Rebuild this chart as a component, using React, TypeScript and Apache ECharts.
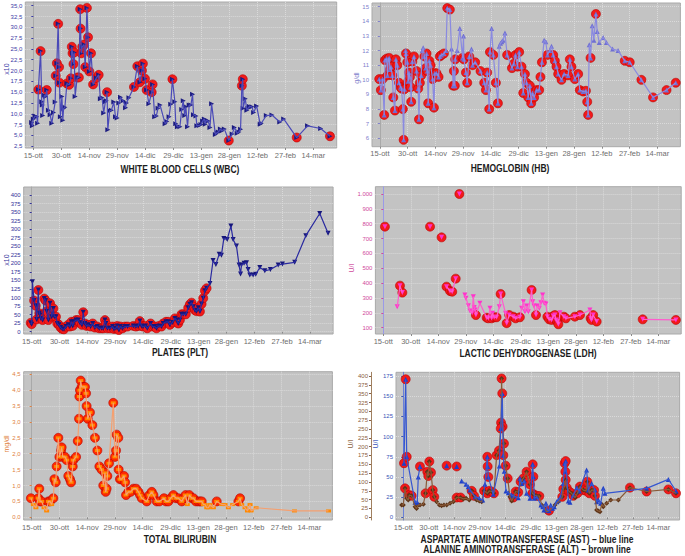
import React, { useEffect, useRef } from "react";
import * as echarts from "echarts";

// ---------- x axis (days from 15 October) ----------
const tickDays = [0, 15, 30, 45, 60, 75, 90, 105, 120, 135, 150];
const tickLabels = ["15-ott", "30-ott", "14-nov", "29-nov", "14-dic", "29-dic", "13-gen", "28-gen", "12-feb", "27-feb", "14-mar"];

const panelTitles = [
  "WHITE BLOOD CELLS (WBC)",
  "HEMOGLOBIN (HB)",
  "PLATES (PLT)",
  "LACTIC DEHYDROGENASE (LDH)",
  "TOTAL BILIRUBIN",
];
const astTitle = ["ASPARTATE AMINOTRANSFERASE (AST) \u2013 blue line", "ALANINE AMINOTRANSFERASE (ALT) \u2013 brown line"];
const axisNames = ["x10", "g/dl", "x10", "U/I", "mg/dl", "U/I", "U/I"];

// ---------- y ticks ----------
const wbcTicks = [2.5, 5, 7.5, 10, 12.5, 15, 17.5, 20, 22.5, 25, 27.5, 30, 32.5, 35];
const hbTicks = [6, 7, 8, 9, 10, 11, 12, 13, 14, 15];
const pltTicks = [0, 25, 50, 75, 100, 125, 150, 175, 200, 225, 250, 275, 300, 325, 350, 375, 400];
const ldhTicks = [100, 200, 300, 400, 500, 600, 700, 800, 900, 1000];
const biliTicks = [0, 0.5, 1, 1.5, 2, 2.5, 3, 3.5, 4, 4.5];
const astTicks = [0, 25, 50, 75, 100, 125, 150, 175];
const altTicks = [0, 25, 50, 75, 100, 125, 150, 175, 200, 225, 250, 275, 300, 325, 350, 375, 400];

// ---------- data: [day, value, out-of-range flag]; null = gap in line ----------
type Pt = [number, number, number] | null;

const wbc: Pt[] = [
  [-0.9, 8.0, 0], [-0.5, 7.2, 0], [0.0, 8.8, 0], [0.9, 9.5, 0], [1.8, 9.3, 0], [2.3, 7.8, 0], [2.7, 15.6, 1], [3.9, 24.5, 1],
  [4.5, 12.8, 0], [4.8, 12.0, 0], [5.0, 9.6, 0], [5.9, 14.3, 0], [6.6, 14.0, 0], [7.2, 15.5, 1], [8.1, 10.8, 0], [9.0, 9.8, 0],
  [9.9, 7.8, 0], [10.8, 10.3, 0], [11.7, 12.7, 0], [12.0, 18.8, 1], [12.6, 21.7, 1], [13.3, 30.8, 1], [13.8, 20.8, 1], [14.0, 17.2, 1],
  [14.5, 9.3, 0], [15.3, 14.0, 0], [15.8, 8.5, 0], [16.2, 11.2, 0], [16.9, 11.5, 0], [18.0, 17.0, 1], [19.2, 16.7, 1], [20.1, 18.2, 1],
  [20.6, 25.5, 1], [21.0, 24.0, 1], [21.5, 21.5, 1], [21.9, 24.2, 1], [22.4, 14.0, 0], [23.5, 18.4, 1], [24.4, 18.4, 1], [25.1, 34.2, 1],
  [25.3, 29.7, 1], [25.7, 24.0, 1], [26.2, 25.5, 1], [27.1, 26.0, 1], [27.8, 20.8, 1], [28.7, 34.5, 1], [29.3, 27.7, 1], [30.0, 19.8, 1],
  [30.9, 24.0, 1], [32.0, 16.8, 1], [33.8, 18.3, 1], [35.0, 19.0, 1], [35.9, 13.5, 0], [36.8, 13.7, 0], [37.7, 10.2, 0], [38.6, 12.8, 0],
  [39.1, 13.0, 0], [39.5, 15.0, 1], [39.9, 6.3, 0], [40.9, 10.7, 0], [41.8, 10.8, 0], [43.1, 12.7, 0], [44.0, 9.3, 0], [44.9, 9.0, 0],
  [45.8, 12.5, 0], [46.7, 13.8, 0], [48.1, 13.0, 0], [49.4, 11.4, 0], [49.9, 12.5, 0], [51.2, 13.7, 0], [53.9, 16.2, 1], [55.7, 21.0, 1],
  [57.1, 17.3, 1], [58.2, 20.0, 1], [58.7, 21.6, 1], [59.8, 18.1, 1], [60.7, 15.5, 1], [61.9, 12.3, 0], [63.4, 15.0, 1], [63.9, 16.8, 1],
  [65.0, 9.3, 0], [65.9, 9.5, 0], [66.8, 11.3, 0], [67.9, 12.0, 0], [70.6, 7.7, 0], [71.5, 8.2, 0], [72.7, 9.3, 0], [73.6, 12.2, 0],
  [74.5, 18.0, 1], [75.8, 12.8, 0], [76.3, 7.7, 0], [77.2, 7.0, 0], [78.5, 7.0, 0], [79.5, 11.0, 0], [80.3, 13.0, 0], [81.1, 9.6, 0],
  [81.7, 11.6, 0], [82.6, 7.0, 0], [83.5, 12.0, 0], [84.4, 12.0, 0], [85.3, 14.5, 0], [85.8, 9.8, 0], [87.1, 9.5, 0], [87.6, 7.2, 0],
  [88.9, 7.3, 0], [89.8, 7.5, 0], [90.7, 8.3, 0], [91.6, 8.8, 0], [92.1, 7.6, 0], [92.6, 8.5, 0], [93.7, 8.3, 0], [94.6, 6.8, 0],
  [95.5, 12.3, 0], [97.5, 5.2, 0], [98.4, 5.6, 0], [99.1, 5.8, 0], [100.2, 6.5, 0], [100.9, 6.0, 0], [102.3, 6.5, 0], [104.7, 3.8, 1],
  [106.5, 5.3, 0], [107.7, 6.8, 0], [109.2, 5.5, 0], [110.1, 5.8, 0], [111.0, 6.4, 0], [111.7, 16.5, 1], [112.2, 18.0, 1], [112.4, 11.3, 0],
  [113.5, 13.5, 0], [114.4, 10.8, 0], [114.9, 11.2, 0], [115.8, 11.7, 0], [117.1, 11.6, 0], [118.0, 10.3, 0], [119.6, 11.8, 0], [121.5, 7.6, 0],
  [122.1, 7.8, 0], [124.8, 9.6, 0], [127.8, 9.7, 0], [132.0, 8.1, 0], [134.1, 8.8, 0], [141.1, 4.5, 1], [146.9, 7.2, 0], [153.9, 6.6, 0],
  [158.9, 4.8, 1],
];

const hb: Pt[] = [
  [-0.4, 10.05, 1], [0.5, 9.3, 1], [1.4, 10.05, 1], [2.3, 7.6, 1], [2.7, 11.35, 1], [3.6, 11.45, 1], [4.1, 10.3, 1], [4.5, 11.4, 1],
  [5.0, 11.5, 1], [5.4, 10.7, 1], [5.9, 10.9, 1], [6.7, 10.3, 1], [7.2, 8.8, 1], [8.1, 7.9, 1], [8.6, 11.4, 1], [9.4, 11.0, 1],
  [10.3, 9.8, 1], [11.2, 9.5, 1], [11.7, 9.4, 1], [12.4, 8.0, 1], [12.8, 5.9, 1], [13.2, 9.35, 1], [13.9, 12.0, 0], [14.1, 11.8, 1],
  [14.8, 11.2, 1], [15.3, 9.9, 1], [15.7, 10.5, 1], [16.2, 10.2, 1], [16.6, 9.5, 1], [16.9, 8.5, 1], [17.5, 11.25, 1], [18.4, 11.6, 1],
  [19.8, 10.6, 1], [20.7, 9.4, 1], [21.1, 7.3, 1], [21.6, 9.8, 1], [22.3, 10.3, 1], [22.9, 12.0, 0], [23.4, 12.2, 0], [24.0, 11.6, 1],
  [24.7, 10.8, 1], [25.2, 11.8, 1], [25.6, 10.6, 1], [26.1, 8.4, 1], [26.7, 11.3, 1], [27.4, 11.0, 1], [28.5, 10.05, 1], [29.2, 8.1, 1],
  [29.7, 10.45, 1], [30.6, 10.45, 1], [31.7, 10.2, 1], [32.4, 11.6, 1], [33.3, 11.7, 1], [34.6, 11.8, 1], [35.7, 12.0, 0], [36.4, 14.9, 1],
  [37.8, 14.8, 1], [38.7, 12.1, 0], [39.6, 9.6, 1], [40.0, 10.6, 1], [40.5, 9.6, 1], [40.7, 11.4, 1], [41.8, 12.0, 0], [43.2, 13.5, 0],
  [44.7, 11.5, 1], [45.2, 13.0, 0], [45.4, 11.4, 1], [46.5, 10.5, 1], [47.2, 9.8, 1], [48.3, 11.6, 1], [49.5, 12.1, 0], [50.1, 11.0, 1],
  [51.5, 11.2, 1], [54.4, 10.6, 1], [56.4, 9.8, 1], [57.3, 9.3, 1], [58.0, 10.5, 1], [59.1, 8.0, 1], [59.5, 11.9, 1], [60.4, 13.5, 0],
  [61.3, 11.7, 1], [62.7, 9.8, 1], [63.8, 8.4, 1], [64.5, 12.3, 0], [65.2, 12.5, 0], [65.9, 12.6, 0], [66.6, 12.7, 0], [67.6, 13.2, 0],
  [68.8, 11.7, 1], [71.4, 10.8, 1], [72.4, 11.1, 1], [73.3, 11.7, 1], [74.4, 10.9, 1], [75.3, 11.9, 1], [76.6, 10.9, 1], [77.5, 9.1, 1],
  [78.4, 10.4, 1], [79.3, 9.8, 1], [80.2, 8.8, 1], [81.1, 9.6, 1], [81.8, 8.4, 1], [82.5, 9.1, 1], [83.4, 8.8, 1], [84.7, 9.3, 1],
  [86.1, 9.3, 1], [86.8, 10.2, 1], [87.6, 11.2, 1], [88.8, 12.7, 0], [89.7, 12.6, 0], [90.6, 11.7, 1], [91.9, 12.0, 0], [92.8, 12.3, 0],
  [93.7, 11.7, 1], [94.6, 11.3, 1], [95.5, 10.9, 1], [96.4, 10.4, 1], [98.2, 10.0, 1], [99.6, 10.4, 1], [101.8, 10.3, 1], [102.7, 11.4, 1],
  [103.6, 10.9, 1], [105.4, 10.05, 1], [107.2, 10.4, 1], [108.1, 9.3, 1], [109.9, 9.2, 1], [111.4, 9.25, 1], [112.1, 8.5, 1], [112.6, 7.6, 1],
  [113.2, 12.4, 0], [113.9, 11.5, 1], [114.8, 13.7, 0], [115.7, 12.7, 0], [116.8, 14.5, 1], [117.5, 13.3, 0], [118.6, 12.55, 0], [120.7, 12.9, 0],
  [122.5, 12.55, 0], [125.8, 12.1, 0], [128.8, 12.0, 0], [132.4, 11.3, 1], [135.1, 11.2, 1], [141.4, 10.0, 1], [147.7, 8.8, 1], [155.0, 9.3, 1],
  [160.0, 9.8, 1],
];

const plt: Pt[] = [
  [-0.5, 26, 1], [0.0, 22, 1], [0.4, 146, 0], [1.3, 91, 1], [2.2, 76, 1], [2.7, 36, 1], [3.6, 122, 1], [4.1, 54, 1],
  [4.5, 49, 1], [5.0, 39, 1], [5.9, 34, 1], [6.8, 97, 1], [7.5, 91, 1], [8.1, 60, 1], [9.0, 34, 1], [9.9, 83, 1],
  [10.8, 44, 1], [11.7, 68, 1], [12.2, 44, 1], [13.1, 44, 1], [13.8, 24, 1], [14.7, 20, 1], [15.6, 12, 1], [16.5, 8, 1],
  [17.4, 7, 1], [18.5, 15, 1], [19.7, 20, 1], [20.6, 15, 1], [21.4, 29, 1], [22.1, 17, 1], [22.8, 29, 1], [23.9, 34, 1],
  [25.1, 34, 1], [26.0, 26, 1], [27.1, 20, 1], [27.8, 57, 1], [28.7, 24, 1], [29.6, 17, 1], [30.5, 20, 1], [31.8, 15, 1],
  [32.9, 24, 1], [34.1, 12, 1], [35.4, 15, 1], [36.4, 10, 1], [37.7, 10, 1], [38.6, 10, 1], [39.5, 34, 1], [40.0, 24, 1],
  [40.8, 10, 1], [42.2, 10, 1], [43.6, 15, 1], [44.3, 8, 1], [45.4, 10, 1], [46.1, 17, 1], [47.0, 5, 1], [47.9, 15, 1],
  [49.0, 10, 1], [50.3, 15, 1], [51.7, 15, 1], [54.8, 17, 1], [56.2, 15, 1], [57.5, 17, 1], [58.3, 31, 1], [59.2, 17, 1],
  [60.1, 15, 1], [61.4, 17, 1], [62.3, 10, 1], [64.1, 24, 1], [65.2, 15, 1], [66.4, 15, 1], [67.3, 10, 1], [68.6, 17, 1],
  [70.0, 15, 1], [70.9, 24, 1], [72.4, 29, 1], [73.6, 29, 1], [74.5, 20, 1], [75.9, 27, 1], [77.2, 39, 1], [78.1, 34, 1],
  [79.0, 24, 1], [79.9, 34, 1], [80.8, 51, 1], [81.7, 51, 1], [83.1, 51, 1], [84.4, 70, 1], [85.3, 80, 1], [86.2, 85, 1],
  [87.1, 73, 1], [88.0, 63, 1], [88.9, 60, 1], [89.8, 70, 1], [90.7, 59, 1], [91.6, 81, 1], [92.5, 98, 1], [93.4, 120, 1],
  [94.3, 127, 1], [96.1, 141, 0], [97.8, 208, 0], [99.3, 197, 0], [101.1, 227, 0], [102.3, 224, 0], [103.6, 273, 0], [105.4, 270, 0],
  [107.4, 309, 0], [108.6, 270, 0], [110.4, 251, 0], [111.8, 195, 0], [112.6, 169, 0], [113.1, 195, 0], [114.5, 200, 0], [115.8, 202, 0],
  [116.7, 182, 0], [117.6, 166, 0], [119.4, 166, 0], [120.8, 168, 0], [123.0, 188, 0], [125.7, 178, 0], [128.7, 182, 0], [132.9, 195, 0],
  [135.2, 198, 0], [141.8, 203, 0], [147.8, 281, 0], [155.3, 346, 0], [159.8, 288, 0],
];

const ldh: Pt[] = [
  [0.9, 780, 1], null, [7.6, 241, 0], [9.1, 383, 1], [10.4, 336, 1], null, [25.5, 780, 1], null, [31.8, 708, 1], null,
  [34.5, 376, 1], [36.4, 347, 1], [37.6, 342, 1], [39.5, 430, 1], null, [41.5, 1000, 1], null,
  [44.5, 320, 0], [45.1, 298, 0], [46.4, 248, 0], [47.3, 212, 0], [48.5, 200, 0], [49.1, 309, 0], [49.6, 235, 0], [50.0, 219, 0],
  [50.5, 185, 1], [52.7, 264, 0], [56.4, 167, 1], [57.3, 163, 1], [58.2, 230, 0], [59.1, 163, 1], [59.6, 197, 0], [60.5, 170, 1],
  [61.8, 170, 1], [63.3, 241, 0], [64.0, 327, 1], [66.7, 197, 0], [67.3, 130, 1], [68.7, 185, 1], [70.9, 174, 1], [72.2, 163, 1],
  [74.5, 170, 1], [75.5, 230, 0], [76.4, 275, 0], [77.3, 208, 0], [78.2, 246, 0], [79.1, 208, 0], [80.9, 354, 1], [81.5, 275, 0],
  [82.2, 246, 0], [83.3, 185, 1], [84.0, 246, 0], [85.1, 230, 0], [86.0, 268, 0], [86.9, 320, 0], [87.8, 264, 0], [88.7, 260, 0],
  [89.5, 174, 1], [90.5, 156, 1], [91.8, 152, 1], [92.7, 178, 1], [93.6, 185, 1], [94.2, 152, 1], [94.9, 141, 1], [95.5, 123, 1],
  [96.4, 201, 0], [98.5, 174, 1], [99.6, 163, 1], [104.5, 174, 1], [107.3, 185, 1], [112.7, 219, 0], [113.1, 163, 1], [113.6, 152, 1],
  [114.5, 185, 1], [116.4, 141, 1], null, [141.5, 156, 1], [159.6, 152, 1],
];

const bili: Pt[] = [
  [-0.4, 0.6, 1], [0.9, 0.4, 0], [2.3, 0.3, 0], [3.6, 0.6, 1], [4.1, 0.9, 1], [4.5, 0.5, 1], [5.4, 0.5, 1], [6.7, 0.3, 0],
  [8.1, 0.2, 0], [9.0, 0.5, 1], [9.9, 0.5, 1], [10.8, 0.4, 0], [11.7, 0.6, 1], [12.3, 1.2, 1], [13.0, 1.1, 1], [13.5, 1.6, 1],
  [14.4, 2.5, 1], [15.0, 1.9, 1], [15.9, 2.1, 1], [16.2, 2.2, 1], [16.8, 1.9, 1], [18.0, 1.9, 1], [18.9, 1.8, 1], [19.8, 1.3, 1],
  [20.7, 1.2, 1], [21.3, 1.1, 1], [22.2, 1.6, 1], [22.5, 1.8, 1], [24.0, 1.9, 1], [24.9, 2.4, 1], [25.6, 3.1, 1], [25.8, 3.8, 1],
  [26.1, 4.0, 1], [26.5, 4.3, 1], [27.0, 4.1, 1], [27.9, 4.1, 1], [28.8, 4.1, 1], [29.4, 3.9, 1], [29.7, 3.5, 1], [30.3, 3.1, 1],
  [31.5, 3.3, 1], [32.8, 2.9, 1], [34.2, 2.5, 1], [35.5, 2.1, 1], [36.6, 1.6, 1], [37.8, 1.5, 1], [38.7, 1.0, 1], [39.6, 1.4, 1],
  [40.0, 0.8, 1], [40.5, 0.9, 1], [40.9, 1.3, 1], [41.8, 1.7, 1], [44.1, 3.6, 1], [45.0, 1.9, 1], [45.6, 2.1, 1], [45.9, 2.6, 1],
  [46.8, 2.5, 1], [47.0, 1.5, 1], [47.7, 1.2, 1], [48.6, 1.2, 1], [49.9, 1.3, 1], [50.5, 1.1, 1], [51.0, 0.7, 1], [52.3, 0.8, 1],
  [53.5, 0.8, 1], [55.0, 0.9, 1], [56.4, 0.9, 1], [57.7, 0.8, 1], [58.6, 0.7, 1], [59.5, 0.6, 1], [62.2, 0.5, 1], [63.6, 0.7, 1],
  [64.9, 0.8, 1], [65.8, 0.7, 1], [67.6, 0.5, 1], [69.0, 0.5, 1], [71.5, 0.6, 1], [72.6, 0.5, 1], [73.9, 0.5, 1], [75.1, 0.6, 1],
  [76.6, 0.7, 1], [78.0, 0.6, 1], [79.3, 0.6, 1], [81.1, 0.5, 1], [82.0, 0.6, 1], [83.2, 0.7, 1], [84.1, 0.4, 0], [85.2, 0.7, 1],
  [86.5, 0.6, 1], [87.4, 0.6, 1], [88.8, 0.5, 1], [90.1, 0.5, 1], [91.0, 0.5, 1], [91.9, 0.5, 1], [92.8, 0.4, 0], [93.7, 0.4, 0],
  [94.6, 0.3, 0], [95.5, 0.3, 0], [96.4, 0.4, 0], [98.2, 0.3, 0], [100.0, 0.5, 1], [102.7, 0.4, 0], [104.5, 0.4, 0], [106.3, 0.3, 0],
  [108.6, 0.4, 0], [111.7, 0.5, 1], [112.6, 0.6, 1], [113.5, 0.4, 0], [115.3, 0.3, 0], [116.6, 0.2, 0], [118.0, 0.4, 0], [118.6, 0.2, 0],
  [121.3, 0.3, 0], [142.0, 0.2, 0], [160.4, 0.2, 0],
];

const ast: Pt[] = [
  [0.4, 67, 1], [1.4, 171, 1], [2.0, 75, 1], [6.9, 18.6, 0], [8.2, 18.6, 0], [8.8, 50, 0], [9.8, 63, 1], null,
  [25.5, 64, 1], null, [31.4, 63, 1], null,
  [34.3, 45, 0], [36.9, 41, 0], [38.2, 38, 0], [39.2, 34, 0], [42.2, 25.6, 0], [44.7, 23.5, 0], [46.7, 21.5, 0], [48.0, 41, 0],
  [49.4, 75, 1], [49.6, 63, 1], [50.0, 50, 1], [52.9, 28.5, 0], [56.5, 63.6, 0], [57.3, 110, 1], [58.2, 153.5, 1], [58.8, 77, 1],
  [59.4, 57, 0], [60.4, 32.6, 0], [61.8, 30.5, 0], [63.7, 27.6, 0], [64.7, 26.4, 0], [67.6, 24.4, 0], [68.6, 48.3, 0], [69.6, 42, 0],
  [71.2, 45, 0], [72.5, 29.7, 0], [74.5, 23.5, 0], [76.1, 65.6, 1], [76.5, 50.3, 1], [77.1, 23.5, 0], [78.4, 25.6, 0], [81.0, 15.3, 0],
  [82.0, 13.2, 0], [82.7, 9.1, 0], [83.9, 17.3, 0], [84.7, 9.1, 0], [85.7, 8.3, 1], [86.7, 15.3, 0], [87.8, 11.1, 0], [88.8, 13.2, 0],
  [90.2, 19.4, 0], [91.2, 21.5, 0], [92.5, 25.6, 0], [94.1, 42, 0], [94.9, 67, 1], [95.3, 56.5, 1], [95.5, 69.7, 1], [97.1, 20.2, 0],
  [98.0, 18.6, 0], [100.0, 27.6, 0], [102.0, 36.7, 0], [103.5, 32.6, 0], [107.8, 58.6, 0], [108.8, 33.8, 0], [110.8, 42, 0], [112.7, 33.8, 0],
  [113.7, 19.4, 0], [114.7, 21.5, 0], [116.1, 17.3, 0], [117.6, 35.9, 0], [118.6, 29.7, 0], [143.1, 35.9, 0], [155.9, 47, 0], [160.4, 32.6, 0],
];

const alt: Pt[] = [
  [-1.0, 35, 0], [0.0, 35, 0], [1.0, 82, 1], [2.0, 54, 0], [2.9, 49, 0], [3.5, 63, 1], [4.9, 61, 1], [6.9, 30, 0],
  [7.8, 25, 0], [8.8, 35, 0], [9.8, 35, 0], [11.8, 37, 0], [13.1, 68, 1], [14.1, 129, 1], [14.7, 117, 1], [15.3, 158, 1],
  [16.3, 127, 1], [17.3, 77, 1], [18.2, 58, 1], [19.6, 44, 0], [21.2, 35, 0], [22.5, 33, 0], [23.9, 35, 0], [25.5, 35, 0],
  [27.5, 40, 0], [29.4, 44, 0], [31.4, 56, 1], [33.7, 56, 1], [35.3, 52, 0], [36.9, 54, 0], [38.8, 49, 0], [40.2, 75, 1],
  [41.6, 61, 1], [43.1, 49, 0], [44.7, 46, 0], [46.1, 44, 0], [47.5, 75, 1], [49.4, 68, 1], [50.6, 75, 1], [52.0, 73, 1],
  [53.3, 68, 1], [54.9, 176, 1], [56.3, 189, 1], [57.5, 268, 1], [57.8, 393, 1], [58.4, 257, 1], [59.2, 209, 1], [60.2, 146, 1],
  [61.4, 110, 1], [62.7, 58, 0], [63.7, 46, 0], [64.7, 56, 1], [66.1, 73, 1], [67.6, 71, 1], [69.0, 101, 1], [70.6, 110, 1],
  [72.5, 129, 1], [74.5, 93, 1], [75.9, 68, 1], [77.1, 63, 1], [78.4, 61, 1], [80.0, 60, 1], [81.4, 35, 0], [83.3, 25, 0],
  [84.3, 16, 0], [85.7, 19, 0], [87.3, 25, 0], [89.2, 35, 0], [91.2, 44, 0], [93.5, 58, 1], [94.1, 80, 1], [95.5, 106, 1],
  [96.1, 84, 1], [97.6, 73, 1], [99.0, 68, 1], [100.0, 61, 1], [101.0, 56, 0], [102.4, 68, 1], [103.9, 87, 1], [105.9, 77, 1],
  [107.5, 75, 1], [108.2, 101, 1], [109.4, 68, 1], [110.8, 77, 1], [112.2, 77, 1], [112.7, 61, 1], [113.7, 21, 0], [114.7, 18, 0],
  [115.7, 16, 0], [116.7, 37, 0], [117.6, 30, 0], [119.6, 40, 0], [122.0, 49, 0], [126.5, 49, 0], [133.3, 84, 1], [143.1, 73, 1],
  [155.9, 79, 1], [160.4, 68, 1],
];

// ---------- formatting ----------
const fmt1 = (v: number) => v.toFixed(1).replace(".", ",");
const fmtInt = (v: number) => String(Math.round(v));
const fmtK = (v: number) => (v >= 1000 ? Math.floor(v / 1000) + "." + String(v % 1000).padStart(3, "0") : String(v));

const X_MIN = -4.3;
const X_MAX = 162.5;
const FONT = '"Liberation Sans", Arial, sans-serif';
const RED = "#f21a1a";

interface YSpec {
  min: number; max: number; ticks: number[]; fmt: (v: number) => string; color: string; offset?: number; axisColor?: string;
}
interface SSpec {
  data: Pt[]; line: string; marker: string; symbol: string; rotate: number; size: number | number[]; red?: string; yIdx?: number;
}
interface Panel {
  grid: { left: number; top: number; width: number; height: number };
  ys: YSpec[];
  series: SSpec[];
}

const panels: Panel[] = [
  {
    grid: { left: 25.3, top: 2, width: 311.4, height: 146 },
    ys: [{ min: 2.08, max: 35.86, ticks: wbcTicks, fmt: fmt1, color: "#3a3aa6" }],
    series: [{ data: wbc, line: "#4a4ab8", marker: "#1c1c80", symbol: "triangle", rotate: -90, size: 5 }],
  },
  {
    grid: { left: 372, top: 3, width: 308.4, height: 143.7 },
    ys: [{ min: 5.43, max: 15.25, ticks: hbTicks, fmt: fmtInt, color: "#8080cc" }],
    series: [{ data: hb, line: "#8a8ae0", marker: "#6f6fd2", symbol: "triangle", rotate: 0, size: 5 }],
  },
  {
    grid: { left: 23.7, top: 187, width: 309.4, height: 147 },
    ys: [{ min: -6.7, max: 423.4, ticks: pltTicks, fmt: fmtInt, color: "#33339a" }],
    series: [{ data: plt, line: "#2a2aa0", marker: "#16167a", symbol: "triangle", rotate: 180, size: 5 }],
  },
  {
    grid: { left: 375.4, top: 186.7, width: 305.8, height: 147.3 },
    ys: [{ min: 57.4, max: 1049, ticks: ldhTicks, fmt: fmtK, color: "#d04a9c", axisColor: "#9a9ae8" }],
    series: [{ data: ldh, line: "#ff5ccd", marker: "#ff33cc", symbol: "triangle", rotate: 180, size: 5 }],
  },
  {
    grid: { left: 23.7, top: 371.7, width: 308.7, height: 148.3 },
    ys: [{ min: -0.085, max: 4.58, ticks: biliTicks, fmt: fmt1, color: "#e08040" }],
    series: [{ data: bili, line: "#f5a070", marker: "#ff8a00", symbol: "rect", rotate: 0, size: [5, 3], red: "#ff2a00" }],
  },
  {
    grid: { left: 396, top: 372.3, width: 283.6, height: 147.7 },
    ys: [
      { min: -3.3, max: 179.6, ticks: astTicks, fmt: fmtInt, color: "#3a55b8", axisColor: "#6a80d8" },
      { min: -7.6, max: 410.5, ticks: altTicks, fmt: fmtInt, color: "#8a6040", offset: 25, axisColor: "#a08060" },
    ],
    series: [
      { data: alt, line: "#8a5a38", marker: "#5e3418", symbol: "diamond", rotate: 0, size: 5, yIdx: 1 },
      { data: ast, line: "#3556d0", marker: "#1f3fc8", symbol: "triangle", rotate: 0, size: 5, yIdx: 0 },
    ],
  },
];

function buildOption() {
  const grid: any[] = [];
  const xAxis: any[] = [];
  const yAxis: any[] = [];
  const series: any[] = [];
  const graphic: any[] = [];

  panels.forEach((p, gi) => {
    grid.push({
      ...p.grid,
      show: true,
      backgroundColor: "#c3c3c3",
      borderColor: "#a9a9a9",
      borderWidth: 1,
      containLabel: false,
    });
    xAxis.push({
      type: "value",
      gridIndex: gi,
      min: X_MIN,
      max: X_MAX,
      axisLine: { show: false },
      axisTick: { show: true, length: 2, lineStyle: { color: "#8a8a8a" }, customValues: tickDays },
      axisLabel: {
        customValues: tickDays,
        margin: 3,
        fontSize: 7.5,
        fontFamily: FONT,
        color: "#6e6e6e",
        hideOverlap: false,
        formatter: (v: number) => tickLabels[tickDays.indexOf(Math.round(v))] ?? "",
      },
      splitLine: { show: true, lineStyle: { color: "#dadada", type: "dotted", width: 1 } },
    });
    const firstY = yAxis.length;
    p.ys.forEach((y, k) => {
      yAxis.push({
        type: "value",
        gridIndex: gi,
        position: "left",
        offset: y.offset ?? 0,
        min: y.min,
        max: y.max,
        axisLine: { show: true, lineStyle: { color: y.axisColor ?? "#a9a9a9", width: 1 } },
        axisTick: { show: true, length: 2, lineStyle: { color: y.color }, customValues: y.ticks },
        axisLabel: {
          customValues: y.ticks,
          margin: 3,
          fontSize: 6,
          fontFamily: FONT,
          color: y.color,
          formatter: (v: number) => y.fmt(v),
        },
        splitLine: { show: k === 0, lineStyle: { color: "#dadada", type: "dotted", width: 1 } },
      });
    });
    p.series.forEach((s) => {
      const yi = firstY + (s.yIdx ?? 0);
      const pts = s.data.filter((d) => d !== null) as [number, number, number][];
      series.push({
        type: "line",
        xAxisIndex: gi,
        yAxisIndex: yi,
        data: s.data.map((d) => (d ? [d[0], d[1]] : [null, null])),
        showSymbol: false,
        connectNulls: false,
        silent: true,
        lineStyle: { color: s.line, width: 1.2 },
      });
      series.push({
        type: "scatter",
        xAxisIndex: gi,
        yAxisIndex: yi,
        data: pts.filter((d) => d[2] === 1).map((d) => [d[0], d[1]]),
        symbol: "circle",
        symbolSize: 9,
        silent: true,
        itemStyle: { color: s.red ?? RED, borderColor: "#b80000", borderWidth: 0.6, opacity: 1 },
      });
      series.push({
        type: "scatter",
        xAxisIndex: gi,
        yAxisIndex: yi,
        data: pts.map((d) => [d[0], d[1]]),
        symbol: s.symbol,
        symbolRotate: s.rotate,
        symbolSize: s.size,
        silent: true,
        itemStyle: { color: s.marker, opacity: 1 },
      });
    });
  });

  const titlePos = [
    [180, 170],
    [510, 169],
    [180, 353],
    [528, 354],
    [180, 540],
  ];
  const textEl = (text: string, x: number, y: number, opts: any = {}) => ({
    type: "text",
    x,
    y,
    scaleX: opts.scaleX ?? 1,
    rotation: opts.rotation ?? 0,
    silent: true,
    style: {
      text,
      x: 0,
      y: 0,
      fill: opts.fill ?? "#1c1c1c",
      font: opts.font ?? `bold 10px ${FONT}`,
      textAlign: "center",
      textVerticalAlign: "middle",
      align: "center",
      verticalAlign: "middle",
    },
  });
  panelTitles.forEach((t, i) => graphic.push(textEl(t, titlePos[i][0], titlePos[i][1], { scaleX: 0.85 })));
  graphic.push(textEl(astTitle[0], 527, 539.5, { scaleX: 0.85 }));
  graphic.push(textEl(astTitle[1], 527, 550, { scaleX: 0.85 }));

  const namePos: [number, number, string][] = [
    [6, 69, "#3a3aa6"],
    [356, 78, "#8080cc"],
    [6, 260, "#33339a"],
    [351, 268, "#d04a9c"],
    [6, 444, "#e08040"],
    [350, 444, "#8a6040"],
    [375, 444, "#3a55b8"],
  ];
  axisNames.forEach((n, i) =>
    graphic.push(
      textEl(n, namePos[i][0], namePos[i][1], { rotation: Math.PI / 2, fill: namePos[i][2], font: `7px ${FONT}` })
    )
  );

  return { animation: false, backgroundColor: "#ffffff", grid, xAxis, yAxis, series, graphic };
}

export default function App() {
  const ref = useRef<HTMLDivElement>(null);
  useEffect(() => {
    if (!ref.current) return;
    const chart = echarts.init(ref.current, undefined, { renderer: "svg" });
    chart.setOption(buildOption() as any);
    return () => chart.dispose();
  }, []);
  return <div ref={ref} style={{ position: "absolute", left: 0, top: 0, width: 685, height: 556 }} />;
}
